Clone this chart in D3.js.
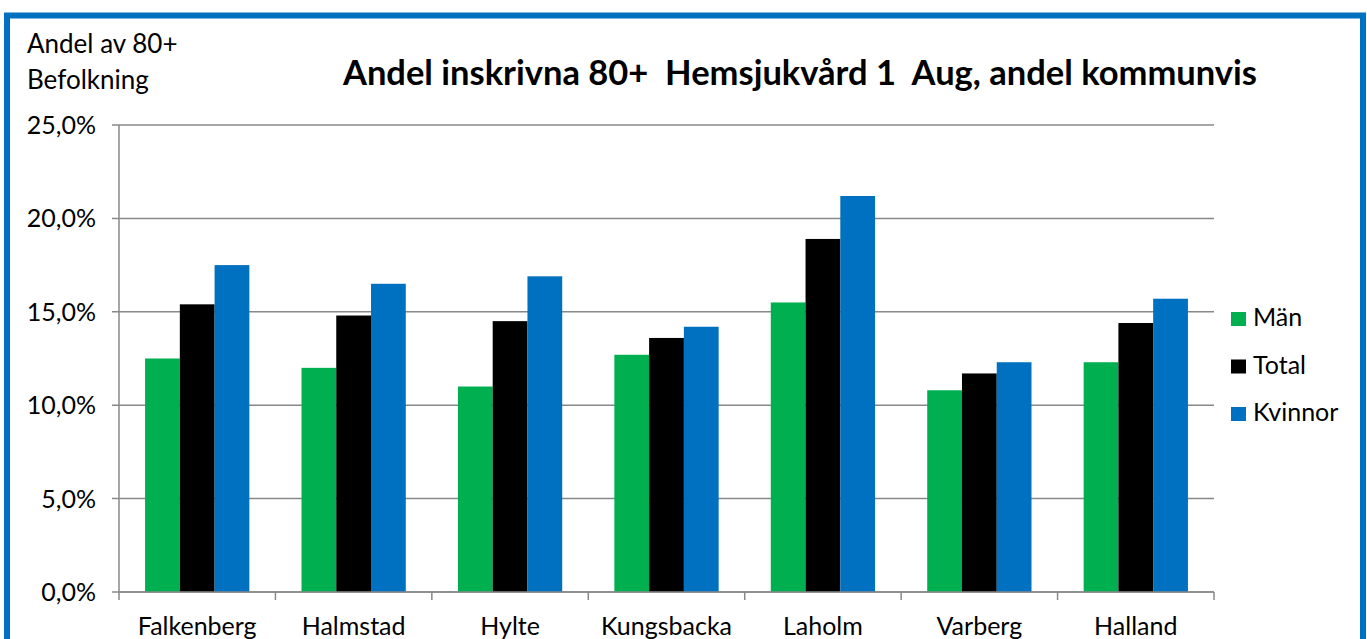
<!DOCTYPE html>
<html>
<head>
<meta charset="utf-8">
<script src="https://cdn.jsdelivr.net/npm/d3@7"></script>
<style>
  body { margin: 0; background: #fff; }
  svg text { font-family: Lato, "Open Sans", sans-serif; }
</style>
</head>
<body>
<svg id="chart" width="1367" height="639"></svg>
<script>
// kommuner och serier
var kommuner = ["Falkenberg", "Halmstad", "Hylte", "Kungsbacka", "Laholm", "Varberg", "Halland"];
var serier = ["Män", "Total", "Kvinnor"];
var farger = ["#00B050", "#000000", "#0070C0"];

// andel i procent, läst från bilden
var man = [12.5, 12.0, 11.0, 12.7, 15.5, 10.8, 12.3];
var total = [15.4, 14.8, 14.5, 13.6, 18.9, 11.7, 14.4];
var kvinnor = [17.5, 16.5, 16.9, 14.2, 21.2, 12.3, 15.7];
var yTicks = [0, 5, 10, 15, 20, 25];

var varden = [man, total, kvinnor];

var svg = d3.select("#chart");

// blå ram runt diagrammet
svg.append("rect")
    .attr("x", 7).attr("y", 15.5)
    .attr("width", 1356).attr("height", 640)
    .attr("fill", "none")
    .attr("stroke", "#0070C0")
    .attr("stroke-width", 6);

var plotLeft = 119, plotRight = 1214, plotTop = 125, plotBottom = 592;

var x = d3.scaleBand()
    .domain(kommuner)
    .range([plotLeft, plotRight]);

var xInner = d3.scaleBand()
    .domain(serier)
    .range([0, x.bandwidth() * 2 / 3]);

var y = d3.scaleLinear()
    .domain([0, 25])
    .range([plotBottom, plotTop]);

var fmt = function(d) { return d3.format(".1f")(d).replace(".", ",") + "%"; };

// rutnät
svg.append("g")
    .selectAll("line")
    .data(yTicks)
    .enter().append("line")
    .attr("x1", plotLeft - 7).attr("x2", plotRight)
    .attr("y1", function(d) { return y(d); })
    .attr("y2", function(d) { return y(d); })
    .attr("stroke", "#888")
    .attr("stroke-width", 1.5);

// y-axelns etiketter
svg.append("g")
    .selectAll("text")
    .data(yTicks)
    .enter().append("text")
    .attr("x", 96)
    .attr("y", function(d) { return y(d) + 9; })
    .attr("text-anchor", "end")
    .attr("font-size", 25)
    .text(fmt);

// staplar
var grupper = svg.append("g")
    .selectAll("g")
    .data(kommuner)
    .enter().append("g")
    .attr("transform", function(d) { return "translate(" + (x(d) + x.bandwidth() / 6) + ",0)"; });

grupper.selectAll("rect")
    .data(function(d, i) { return serier.map(function(s, j) { return { serie: s, v: varden[j][i], c: farger[j] }; }); })
    .enter().append("rect")
    .attr("x", function(d) { return xInner(d.serie); })
    .attr("width", xInner.bandwidth())
    .attr("y", function(d) { return y(d.v); })
    .attr("height", function(d) { return plotBottom - y(d.v); })
    .attr("fill", function(d) { return d.c; });

// axlar
svg.append("line")
    .attr("x1", plotLeft).attr("x2", plotLeft)
    .attr("y1", plotTop).attr("y2", plotBottom)
    .attr("stroke", "#888").attr("stroke-width", 1.5);

svg.append("line")
    .attr("x1", plotLeft).attr("x2", plotRight)
    .attr("y1", plotBottom).attr("y2", plotBottom)
    .attr("stroke", "#888").attr("stroke-width", 1.5);

svg.append("g")
    .selectAll("line")
    .data(d3.range(kommuner.length + 1))
    .enter().append("line")
    .attr("x1", function(i) { return plotLeft + i * x.step(); })
    .attr("x2", function(i) { return plotLeft + i * x.step(); })
    .attr("y1", plotBottom).attr("y2", plotBottom + 8)
    .attr("stroke", "#888").attr("stroke-width", 1.5);

// kategorietiketter
svg.append("g")
    .selectAll("text")
    .data(kommuner)
    .enter().append("text")
    .attr("x", function(d) { return x(d) + x.bandwidth() / 2; })
    .attr("y", 635)
    .attr("text-anchor", "middle")
    .attr("font-size", 25)
    .text(function(d) { return d; });

// rubrik och axeltitel
svg.append("text")
    .attr("x", 800).attr("y", 85)
    .attr("text-anchor", "middle")
    .attr("font-size", 34.5)
    .attr("font-weight", "bold")
    .attr("xml:space", "preserve")
    .text("Andel inskrivna 80+  Hemsjukvård 1  Aug, andel kommunvis");

svg.append("text")
    .attr("x", 27).attr("y", 53)
    .attr("font-size", 26)
    .text("Andel av 80+");

svg.append("text")
    .attr("x", 27).attr("y", 89)
    .attr("font-size", 26)
    .text("Befolkning");

// förklaring
var legend = svg.append("g")
    .selectAll("g")
    .data(serier)
    .enter().append("g")
    .attr("transform", function(d, i) { return "translate(1231," + (326 + i * 47.5) + ")"; });

legend.append("rect")
    .attr("x", 0).attr("y", -14)
    .attr("width", 15).attr("height", 14)
    .attr("fill", function(d, i) { return farger[i]; });

legend.append("text")
    .attr("x", 22).attr("y", 0)
    .attr("font-size", 25)
    .text(function(d) { return d; });
</script>
</body>
</html>
